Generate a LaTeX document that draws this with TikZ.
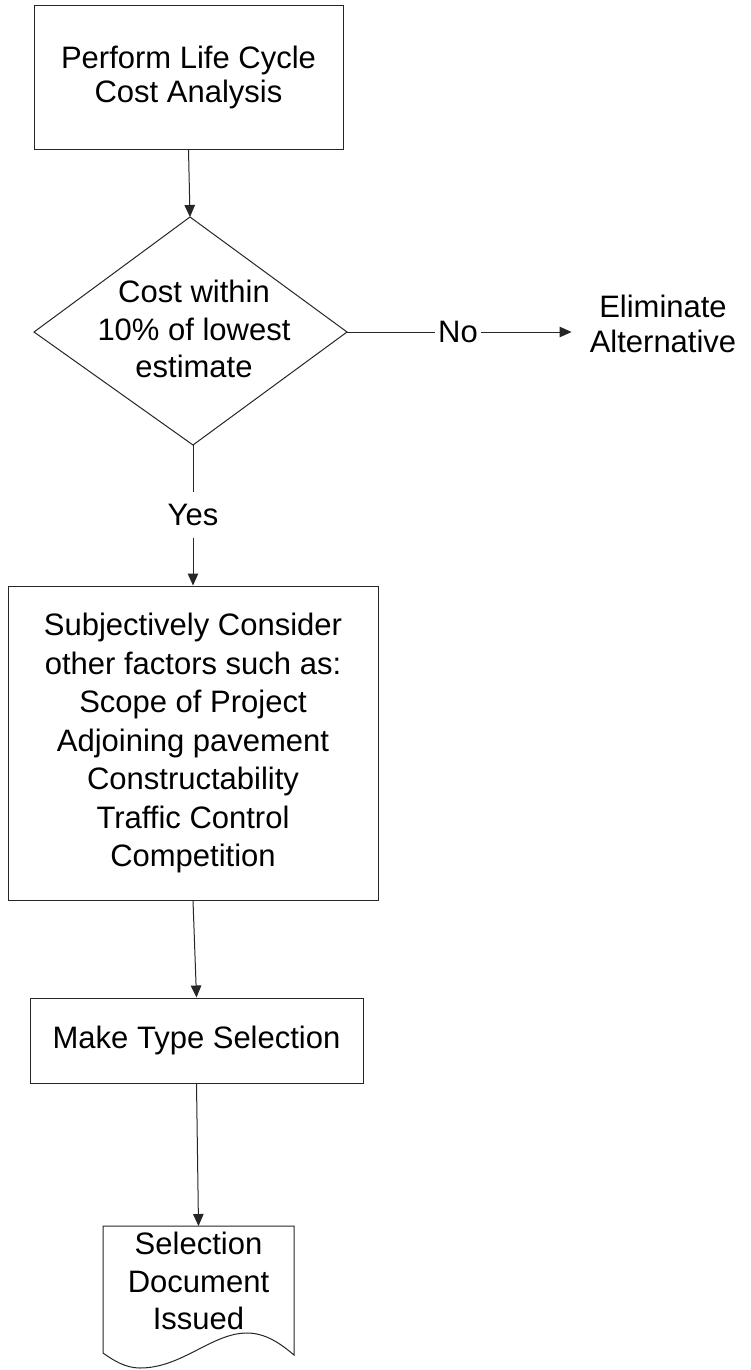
\documentclass[tikz,border=0pt]{standalone}
\usepackage{fontspec}
\setmainfont{Liberation Sans}
\usetikzlibrary{arrows.meta}
\begin{document}
\begin{tikzpicture}[x=1pt,y=-1pt,
  line/.style={draw=black!85, line width=1pt},
  arr/.style={line, -{Triangle[length=12pt,width=10.5pt]}},
  txt/.style={font=\fontsize{31}{38}\selectfont, align=center, text=black},
  procbox/.style={txt, line, rectangle, inner sep=0pt},
  lbl/.style={txt, inner sep=0pt}]
\useasboundingbox (0,0) rectangle (750,1370);
\fill[white] (0,0) rectangle (750,1370);

% first process step
\node[procbox, minimum width=309pt, minimum height=143pt,
      font=\fontsize{31}{34}\selectfont] (lcca) at (188.5,77.5)
      {Perform Life Cycle\\Cost Analysis};

% decision diamond
\coordinate (dt) at (190,217);
\coordinate (dr) at (347,332);
\coordinate (db) at (193,445);
\coordinate (dl) at (34,332);
\draw[line] (dt) -- (dr) -- (db) -- (dl) -- cycle;
\node[lbl, font=\fontsize{31}{37.5}\selectfont] (dec) at (194,329)
      {Cost within\\10\% of lowest\\estimate};

\draw[arr] (lcca.south) -- (dt);

% "No" branch
\node[lbl, inner xsep=3pt] (no) at (458,332) {No};
\node[lbl, inner xsep=18pt, font=\fontsize{31}{35}\selectfont] (elim) at (663,324)
      {Eliminate\\Alternative};
\draw[line] (dr) -- (no.west);
\draw[arr] (no.east) -- (no.east -| elim.west);

% "Yes" branch
\node[lbl, minimum height=45pt] (yes) at (193,515) {Yes};
\node[procbox, minimum width=370pt, minimum height=314pt,
      font=\fontsize{31}{38.5}\selectfont] (subj) at (193,743)
      {Subjectively Consider\\other factors such as:\\Scope of Project\\Adjoining pavement\\Constructability\\Traffic Control\\Competition};
\draw[line] (db) -- (yes);
\draw[arr] (yes) -- (subj);

% selection step
\node[procbox, minimum width=333pt, minimum height=85pt] (mts) at (196.5,1040.5)
      {Make Type Selection};
\draw[arr] (subj.south) -- (mts.north);

% document symbol
\coordinate (docnw) at (103,1226);
\coordinate (docn) at (198.5,1226);
\coordinate (docne) at (294,1226);
\draw[line] (docnw) -- (docne) -- (294,1355)
  .. controls (280,1343) and (265,1333) .. (247,1333)
  .. controls (212,1333) and (182,1368) .. (140,1368)
  .. controls (125,1368) and (113,1360) .. (103,1353) -- cycle;
\node[lbl, font=\fontsize{31}{37.5}\selectfont] (doc) at (198.5,1281)
      {Selection\\Document\\Issued};
\draw[arr] (mts.south) -- (docn);
\end{tikzpicture}
\end{document}
